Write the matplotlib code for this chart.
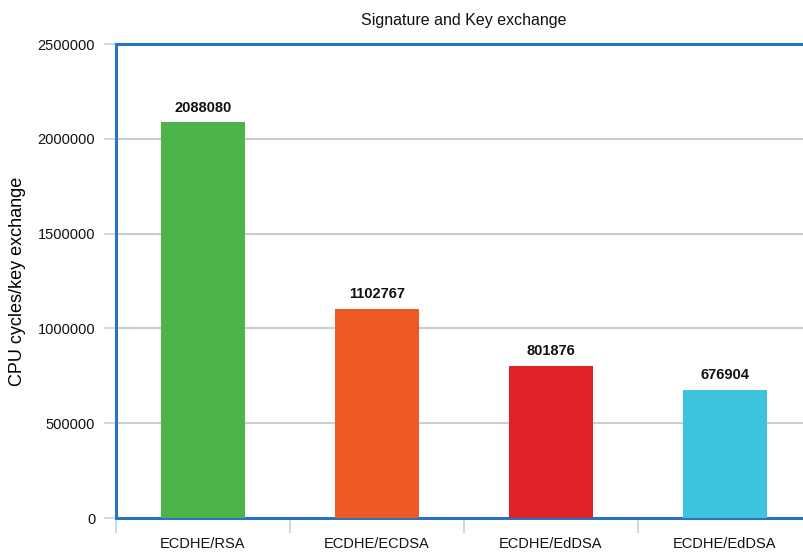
import numpy as np
import matplotlib.pyplot as plt

plt.rcParams['font.family'] = ['Liberation Sans', 'DejaVu Sans']

# Datos
categorias = ['ECDHE/RSA', 'ECDHE/ECDSA', 'ECDHE/EdDSA', 'ECDHE/EdDSA']
ciclos = [2088080, 1102767, 801876, 676904]
colores = ['#4DB449', '#EE5A24', '#DE2227', '#3EC3DE']
yticks = [0, 500000, 1000000, 1500000, 2000000, 2500000]

fig = plt.figure(figsize=(8.04, 5.52), dpi=100)
ax = fig.add_axes([116/804, 34/552, 696/804, 474/552])

x = np.arange(len(categorias))
barras = ax.bar(x, ciclos, width=0.48, color=colores, zorder=3)

# Etiquetas encima de cada barra
for xi, v in zip(x, ciclos):
    ax.text(xi, v + 40000, str(v), ha='center', va='bottom',
            fontsize=10.5, fontweight='bold', color='#111111')

ax.set_xlim(-0.5, 3.5)
ax.set_ylim(0, 2500000)
ax.set_yticks(yticks)
ax.set_yticklabels([str(t) for t in yticks])
ax.set_xticks(x)
ax.set_xticklabels(categorias)
ax.set_xticks([-0.5, 0.5, 1.5, 2.5, 3.5], minor=True)

ax.grid(axis='y', color='#CCCCCC', linewidth=1.5, zorder=0)
ax.tick_params(axis='y', length=9, width=1.2, color='#BBD3EE',
               labelsize=10.5, pad=6, labelcolor='#111111')
ax.tick_params(axis='x', which='major', length=0, labelsize=10.5, pad=14,
               labelcolor='#111111')
ax.tick_params(axis='x', which='minor', length=11, width=1.2, color='#BBD3EE')

for lado in ['left', 'top', 'bottom']:
    ax.spines[lado].set_color('#2A72C2')
    ax.spines[lado].set_linewidth(2.2)
ax.spines['right'].set_visible(False)

ax.set_ylabel('CPU cycles/key exchange', fontsize=13, labelpad=8)
fig.text(464/804, 1 - 20/552, 'Signature and Key exchange',
         ha='center', va='center', fontsize=11.5, color='#111111')

plt.savefig('out.png', dpi=100)
